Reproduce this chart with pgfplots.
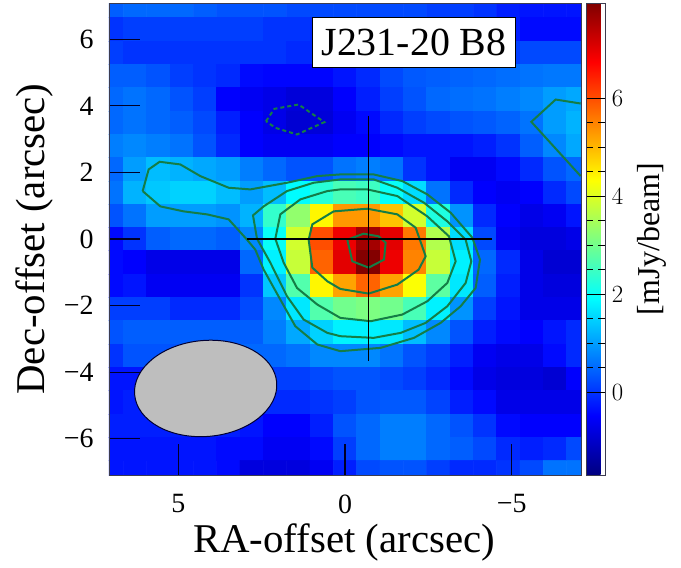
\documentclass[border=0pt]{standalone}
\usepackage{pgfplots}
\pgfplotsset{compat=1.18}
\usepackage{fontspec}
\setmainfont{Liberation Serif}
\definecolor{ctr}{RGB}{20,125,70}
\definecolor{beam}{RGB}{190,190,190}
\definecolor{fr}{RGB}{60,60,80}
\begin{document}
\begin{tikzpicture}
\useasboundingbox (-109bp,-93bp) rectangle (572bp,475bp);
\begin{axis}[
  scale only axis, width=472bp, height=472bp,
  x dir=reverse,
  xmin=-7.08, xmax=7.08, ymin=-7.09, ymax=7.09,
  axis on top,
  axis line style={fr, line width=0.7bp},
  xtick={5,0,-5}, xticklabels={5,0,−5},
  ytick={-6,-4,-2,0,2,4,6}, yticklabels={−6,−4,−2,0,2,4,6},
  xtick pos=bottom, ytick pos=left,
  tick align=inside,
  major tick length=31bp,
  tick style={black!85!blue, line width=1.1bp},
  ticklabel style={font=\fontsize{28}{28}\selectfont},
  yticklabel style={xshift=-12bp},
  xticklabel style={yshift=-16bp},
  xlabel={RA-offset (arcsec)}, ylabel={Dec-offset (arcsec)},
  label style={font=\fontsize{41}{41}\selectfont},
  xlabel style={at={(axis description cs:0.498,-0.165)}, anchor=base},
  ylabel style={at={(axis description cs:-0.136,0.5)}, anchor=base},
  colormap/jet,
  point meta min=-1.69, point meta max=7.94,
  colorbar,
  colorbar shift/.style={xshift=5bp},
  colorbar style={
    width=19bp,
    axis line style={fr, line width=0.7bp},
    ytick={0,2,4,6},
    minor y tick num=3,
    ytick pos=both, yticklabel pos=right,
    tick align=inside,
    major tick length=10bp, minor tick length=7bp,
    tick style={black, line width=0.9bp},
    yticklabel style={font=\fontsize{27}{27}\selectfont, xshift=3bp},
    ylabel={[mJy/beam]},
    ylabel style={font=\fontsize{32}{32}\selectfont, at={(axis description cs:3.85,0.5)}, anchor=base, rotate=0},
  },
]
\addplot[matrix plot*, mesh/cols=21, mesh/ordering=x varies, point meta=\thisrow{z}]
  table[row sep=\\, x expr={7-0.7*mod(\coordindex,21)}, y expr={7-0.7*floor((\coordindex+0.5)/21)}] {
z\\
0.4\\0.5\\0.5\\0.5\\0.4\\0.3\\0.3\\0.3\\0.2\\0.2\\0.2\\0.2\\0.2\\0.2\\0.1\\0.1\\0.0\\-0.2\\-0.3\\-0.3\\-0.3\\
0.0\\0.1\\0.1\\0.1\\0.1\\0.1\\0.1\\0.0\\0.0\\-0.1\\-0.1\\-0.1\\-0.1\\-0.1\\-0.1\\-0.1\\-0.1\\-0.2\\-0.4\\-0.4\\-0.4\\
0.1\\0.0\\0.0\\0.0\\0.0\\0.0\\0.0\\0.0\\-0.1\\-0.1\\-0.1\\-0.1\\-0.1\\-0.1\\-0.1\\0.0\\0.0\\0.1\\0.2\\0.2\\0.2\\
0.4\\0.4\\0.3\\0.1\\0.0\\-0.1\\-0.4\\-0.45\\-0.45\\-0.45\\-0.3\\-0.1\\0.2\\0.35\\0.4\\0.45\\0.5\\0.55\\0.6\\0.65\\0.65\\
0.5\\0.6\\0.5\\0.3\\0.1\\-0.5\\-0.6\\-0.7\\-0.85\\-0.8\\-0.5\\-0.2\\0.1\\0.3\\0.5\\0.55\\0.6\\0.7\\0.8\\1.0\\1.1\\
0.5\\0.6\\0.5\\0.4\\0.2\\-0.2\\-0.5\\-0.7\\-0.9\\-0.85\\-0.6\\-0.4\\-0.1\\0.1\\0.2\\0.3\\0.35\\0.45\\0.6\\1.0\\1.2\\
0.7\\0.8\\0.7\\0.6\\0.3\\-0.1\\-0.5\\-0.6\\-0.6\\-0.6\\-0.5\\-0.5\\-0.4\\-0.3\\-0.3\\-0.3\\-0.2\\0.0\\0.4\\0.8\\1.1\\
0.5\\1.0\\1.3\\1.2\\1.1\\1.0\\0.7\\0.5\\0.3\\0.3\\0.6\\0.7\\0.6\\0.0\\-0.3\\-0.6\\-0.6\\-0.4\\-0.1\\0.3\\0.5\\
0.6\\1.2\\1.4\\1.5\\1.5\\1.3\\1.0\\1.3\\1.9\\2.3\\2.6\\2.5\\2.0\\1.6\\0.6\\-0.1\\-0.5\\-0.6\\-0.5\\-0.1\\0.2\\
0.3\\0.6\\1.0\\1.0\\1.0\\0.9\\1.2\\2.4\\3.3\\4.4\\5.3\\5.3\\4.9\\3.9\\2.2\\0.9\\-0.1\\-0.5\\-0.7\\-0.6\\-0.3\\
-0.4\\0.0\\0.4\\0.5\\0.5\\0.4\\0.8\\2.0\\3.9\\6.0\\6.9\\7.6\\7.0\\5.6\\3.6\\1.6\\0.2\\-0.6\\-0.8\\-0.8\\-0.7\\
-0.4\\-0.5\\-0.7\\-0.7\\-0.7\\-0.7\\0.5\\1.8\\3.8\\5.8\\7.0\\7.9\\6.9\\5.5\\3.8\\1.8\\0.5\\-0.1\\-0.7\\-0.9\\-0.9\\
-0.4\\-0.3\\-0.6\\-0.6\\-0.6\\-0.6\\0.0\\1.4\\2.7\\4.4\\5.2\\5.8\\5.2\\4.3\\2.8\\1.7\\0.4\\-0.2\\-0.7\\-0.8\\-0.8\\
0.1\\0.1\\0.1\\-0.1\\-0.1\\-0.1\\0.2\\0.8\\1.7\\2.7\\3.0\\3.1\\3.0\\2.6\\1.8\\0.9\\0.1\\-0.3\\-0.7\\-0.7\\-0.7\\
0.3\\0.4\\0.4\\0.4\\0.4\\0.4\\0.4\\0.7\\1.1\\1.5\\1.8\\1.8\\1.7\\1.3\\0.8\\0.3\\-0.2\\-0.4\\-0.5\\-0.3\\-0.1\\
0.0\\0.3\\0.3\\0.3\\0.3\\0.3\\0.5\\0.5\\0.6\\0.8\\0.8\\0.8\\0.6\\0.3\\0.1\\-0.2\\-0.6\\-0.7\\-0.7\\-0.4\\-0.1\\
-0.3\\-0.3\\0.0\\0.0\\0.0\\0.0\\0.0\\0.1\\0.1\\0.2\\0.3\\0.3\\0.2\\0.1\\-0.1\\-0.4\\-0.7\\-0.8\\-0.8\\-0.9\\-0.5\\
-0.3\\-0.2\\0.0\\0.0\\0.0\\0.0\\-0.1\\-0.1\\-0.1\\0.0\\0.1\\0.3\\0.35\\0.35\\0.15\\-0.2\\-0.4\\-0.7\\-0.7\\-0.7\\-0.7\\
-0.2\\-0.2\\-0.2\\-0.2\\-0.2\\-0.2\\-0.3\\-0.5\\-0.5\\-0.2\\0.3\\0.5\\0.7\\0.7\\0.5\\0.3\\0.0\\-0.4\\-0.5\\-0.5\\-0.5\\
-0.3\\-0.3\\-0.3\\-0.3\\-0.3\\-0.4\\-0.4\\-0.6\\-0.6\\-0.4\\0.1\\0.5\\0.7\\0.7\\0.5\\0.4\\0.2\\-0.1\\-0.2\\-0.1\\0.2\\
-0.3\\-0.3\\-0.3\\-0.3\\-0.3\\-0.4\\-0.8\\-0.8\\-0.8\\-0.6\\-0.2\\0.2\\0.3\\0.3\\0.1\\-0.1\\-0.1\\0.0\\0.2\\0.6\\0.6\\
};
% contours
\addplot[ctr, line width=2bp, dash pattern=on 4bp off 3bp, forget plot] coordinates {(2.37,3.54)(2.12,3.91)(1.39,4.04)(0.62,3.51)(1.44,3.14)(2.09,3.34)(2.37,3.54)};
\addplot[ctr, line width=2bp, forget plot] coordinates {(-7.07,4.07)(-6.32,4.19)(-5.59,3.52)(-7.07,1.89)};
\addplot[ctr, line width=2bp, forget plot] coordinates {
(6.07,1.44)(5.89,2.09)(5.56,2.32)(4.94,2.24)(4.34,1.89)(3.49,1.54)(2.84,1.49)(1.74,1.69)(0.83,1.89)(0.14,1.94)(-0.86,1.94)(-1.72,1.74)(-2.47,1.34)(-3.17,0.79)(-3.82,0.04)(-4.05,-0.62)(-3.92,-1.47)(-3.47,-2.02)(-2.87,-2.52)(-2.07,-2.97)(-1.07,-3.27)(0.14,-3.37)(0.83,-3.17)(1.49,-2.62)(1.94,-1.82)(2.44,-0.92)(2.69,-0.32)(2.94,-0.02)(3.49,0.59)(4.14,0.74)(4.84,0.83)(5.54,0.98)(6.07,1.44)};
\addplot[ctr, line width=2bp, forget plot] coordinates {
(2.64,0.01)(2.76,0.71)(2.44,0.98)(1.74,1.44)(0.94,1.69)(0.14,1.79)(-0.86,1.79)(-1.57,1.54)(-2.37,1.09)(-3.07,0.53)(-3.62,-0.02)(-3.79,-0.67)(-3.62,-1.32)(-3.07,-2.02)(-2.42,-2.52)(-1.67,-2.82)(-0.86,-2.97)(0.14,-2.92)(0.53,-2.82)(1.24,-2.42)(1.74,-1.72)(2.24,-0.71)(2.64,0.01)};
\addplot[ctr, line width=2bp, forget plot] coordinates {
(2.09,0.01)(1.94,0.74)(1.34,1.19)(0.53,1.44)(0.14,1.49)(-0.67,1.49)(-1.57,1.29)(-2.47,0.68)(-3.12,0.08)(-3.32,-0.67)(-3.07,-1.32)(-2.47,-1.87)(-1.72,-2.27)(-0.77,-2.47)(0.14,-2.37)(0.83,-1.97)(1.44,-1.47)(1.84,-0.71)(2.09,0.01)};
\addplot[ctr, line width=2bp, forget plot] coordinates {
(1.09,-0.02)(0.98,0.44)(0.34,0.83)(-0.67,0.91)(-1.57,0.74)(-2.12,0.34)(-2.42,-0.52)(-2.21,-0.92)(-1.57,-1.37)(-0.71,-1.64)(0.14,-1.50)(0.53,-1.27)(0.98,-0.86)(1.09,-0.02)};
\addplot[ctr, line width=2bp, forget plot] coordinates {
(-0.07,-0.02)(-0.22,-0.67)(-0.71,-0.86)(-1.17,-0.62)(-1.22,-0.11)(-1.01,0.08)(-0.56,0.16)(-0.07,-0.02)};
% cross
\addplot[black, line width=1.2bp, forget plot] coordinates {(2.93,0)(-4.4,0)};
\addplot[black, line width=1.2bp, forget plot] coordinates {(-0.71,3.71)(-0.71,-3.66)};
% beam
\draw[black!80!blue, line width=1bp, fill=beam, rotate around={5:(axis cs:4.18,-4.49)}] (axis cs:4.18,-4.49) ellipse [x radius=71.3bp, y radius=48bp];
% label
\node[draw=black, line width=0.8bp, fill=white, minimum width=203bp, minimum height=50bp, inner sep=0pt, font=\fontsize{40}{40}\selectfont] at (axis cs:-2.07,5.9) {J231-20 B8};
\end{axis}
\end{tikzpicture}
\end{document}
